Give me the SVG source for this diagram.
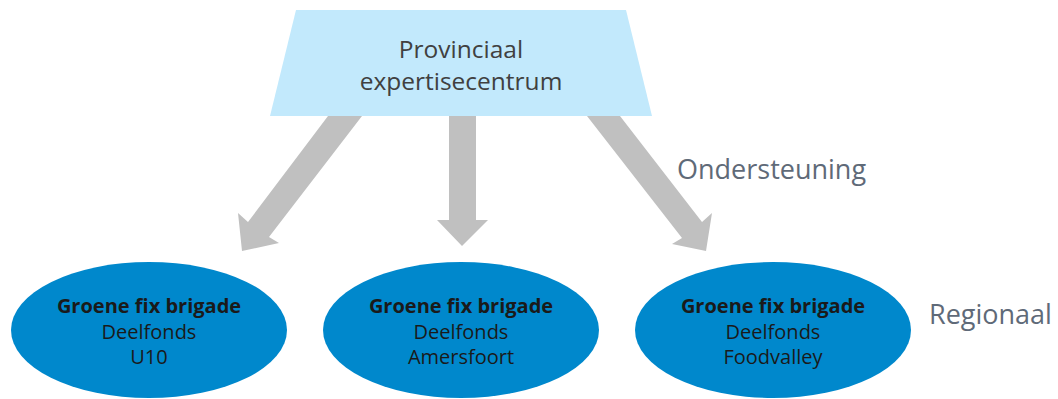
<svg xmlns="http://www.w3.org/2000/svg" width="1058" height="399" viewBox="0 0 1058 399">
  <style>
    .t { font-family: "Open Sans", "Noto Sans", sans-serif; text-anchor: middle; }
    .top { font-size: 24.5px; fill: #404040; }
    .side { font-family: "Open Sans", "Noto Sans", sans-serif; font-size: 27px; fill: #5f6a78; }
    .b { font-size: 20px; font-weight: bold; fill: #1a1a1a; }
    .n { font-size: 20px; fill: #1a1a1a; }
    .ell { fill: #0088cc; }
    .arrow { fill: #c0c0c0; }
  </style>
  <rect width="1058" height="399" fill="#ffffff"/>
  <g id="connectors">
    <polygon class="arrow" points="328,116 362,116 269,237 279,243 242,251 238,213 248,222"/>
    <polygon class="arrow" points="449,116 476,116 476,220 488,220 462,246 437,220 449,220"/>
    <polygon class="arrow" points="587,116 620,116 702,222 712,213 706,251 672,244 682,238"/>
  </g>
  <g id="expertisecentrum">
    <polygon points="296,10 626,10 652,116 270,116" fill="#c2e9fc"/>
    <text class="t top" x="461" y="58">Provinciaal</text>
    <text class="t top" x="461" y="90">expertisecentrum</text>
  </g>
  <g id="u10">
    <ellipse class="ell" cx="149" cy="330" rx="138" ry="68"/>
    <text class="t b" x="149" y="313">Groene fix brigade</text>
    <text class="t n" x="149" y="339">Deelfonds</text>
    <text class="t n" x="149" y="364">U10</text>
  </g>
  <g id="amersfoort">
    <ellipse class="ell" cx="461" cy="330" rx="138" ry="68"/>
    <text class="t b" x="461" y="313">Groene fix brigade</text>
    <text class="t n" x="461" y="339">Deelfonds</text>
    <text class="t n" x="461" y="364">Amersfoort</text>
  </g>
  <g id="foodvalley">
    <ellipse class="ell" cx="773" cy="330" rx="138" ry="68"/>
    <text class="t b" x="773" y="313">Groene fix brigade</text>
    <text class="t n" x="773" y="339">Deelfonds</text>
    <text class="t n" x="773" y="364">Foodvalley</text>
  </g>
  <g id="labels">
    <text class="side" x="677" y="179">Ondersteuning</text>
    <text class="side" x="929" y="324">Regionaal</text>
  </g>
</svg>
